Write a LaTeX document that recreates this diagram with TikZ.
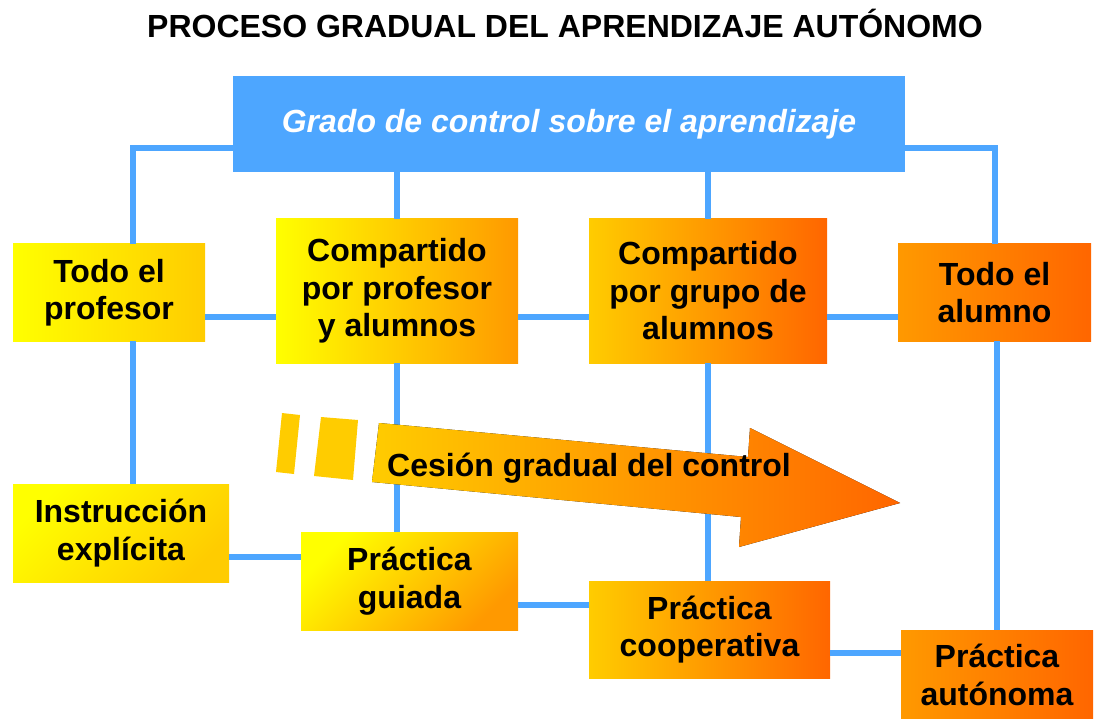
\documentclass[tikz,border=0pt]{standalone}
\usepackage{fontspec}
\setmainfont{Liberation Sans}
\usepackage{xcolor}
\usepackage{tikz}
\definecolor{linkblue}{RGB}{77,166,255}
\definecolor{gradyel}{RGB}{255,255,0}
\definecolor{gradgold}{RGB}{255,204,0}
\definecolor{gradorg}{RGB}{255,153,0}
\definecolor{gradred}{RGB}{255,102,0}
\tikzset{
	gradbox/.style={rectangle,inner sep=0pt,align=center,text=black,font=\fontsize{32}{37.5}\selectfont\bfseries},
	gradbar/.style={rectangle,inner sep=0pt,fill=linkblue,text=white,font=\fontsize{32}{38}\selectfont\bfseries\itshape},
	gradlink/.style={draw=linkblue,line width=6pt},
	gradarrow/.style={left color=gradgold,right color=gradred}
}

\begin{document}
\begin{tikzpicture}[x=1pt,y=-1pt]
	\useasboundingbox (0,0) rectangle (1105,719);
	\node[anchor=base,font=\fontsize{32}{38}\selectfont\bfseries] (title) at (565,38) {PROCESO GRADUAL DEL APRENDIZAJE AUTÓNOMO};
	\node[gradbar,minimum width=672pt,minimum height=96pt] (bar) at (569,124) {Grado de control sobre el aprendizaje};
	% fila de arriba
	\node[gradbox,minimum width=192pt,minimum height=97pt,left color=gradyel,right color=gradgold] (prof) at (109,292.5) {Todo el\\profesor};
	\node[gradbox,minimum width=242pt,minimum height=144pt,left color=gradyel,right color=gradorg] (cpa) at (397,291) {Compartido\\por profesor\\y alumnos};
	\node[gradbox,minimum width=238pt,minimum height=144pt,left color=gradgold,right color=gradred] (cga) at (708,291) {Compartido\\por grupo de\\alumnos};
	\node[gradbox,minimum width=193pt,minimum height=97pt,left color=gradorg,right color=gradred] (alu) at (994.5,292.5) {Todo el\\alumno};
	% fila de abajo
	\node[gradbox,minimum width=216pt,minimum height=98pt,left color=gradyel,right color=gradgold,shading angle=45] (instr) at (121,533) {Instrucción\\explícita};
	\node[gradbox,minimum width=217pt,minimum height=98pt,left color=gradyel,right color=gradorg,shading angle=45] (guiada) at (409.5,581) {Práctica\\guiada};
	\node[gradbox,minimum width=241pt,minimum height=97pt,left color=gradgold,right color=gradred] (coop) at (709.5,629.5) {Práctica\\cooperativa};
	\node[gradbox,minimum width=192pt,minimum height=90pt,left color=gradorg,right color=gradred] (auto) at (997,675) {Práctica\\autónoma};
	% lineas
	\draw[gradlink] (prof.north -| 133,0) |- ([yshift=-24pt]bar.west);
	\draw[gradlink] (alu.north) |- ([yshift=-24pt]bar.east);
	\draw[gradlink] (cpa.north) -- (cpa.north |- bar.south);
	\draw[gradlink] (cga.north) -- (cga.north |- bar.south);
	\draw[gradlink] (prof.east |- 0,317) -- (cpa.west |- 0,317);
	\draw[gradlink] (cpa.east |- 0,317) -- (cga.west |- 0,317);
	\draw[gradlink] (cga.east |- 0,317) -- (alu.west |- 0,317);
	\draw[gradlink] (prof.south -| 133,0) -- (instr.north -| 133,0);
	\draw[gradlink] (cpa.south) -- (guiada.north -| cpa.south);
	\draw[gradlink] (cga.south) -- (coop.north -| cga.south);
	\draw[gradlink] (alu.south -| auto.north) -- (auto.north);
	\draw[gradlink] (instr.east |- 0,557) -- (guiada.west |- 0,557);
	\draw[gradlink] (guiada.east |- 0,605) -- (coop.west |- 0,605);
	\draw[gradlink] (coop.east |- 0,653) -- (auto.west |- 0,653);
	% flecha
	\fill[gradgold] (282,413) -- (300,415) -- (294,474) -- (276,472) -- cycle;
	\fill[gradgold] (321,417) -- (358,420) -- (353,480) -- (314,476) -- cycle;
	\fill[gradarrow] (379,423) -- (748,457) -- (750,428) -- (900,503) -- (739,547) -- (741,517) -- (372,482) -- cycle;
	\node[font=\fontsize{32}{38}\selectfont\bfseries] (cesion) at (589,468) {Cesión gradual del control};
\end{tikzpicture}
\end{document}
